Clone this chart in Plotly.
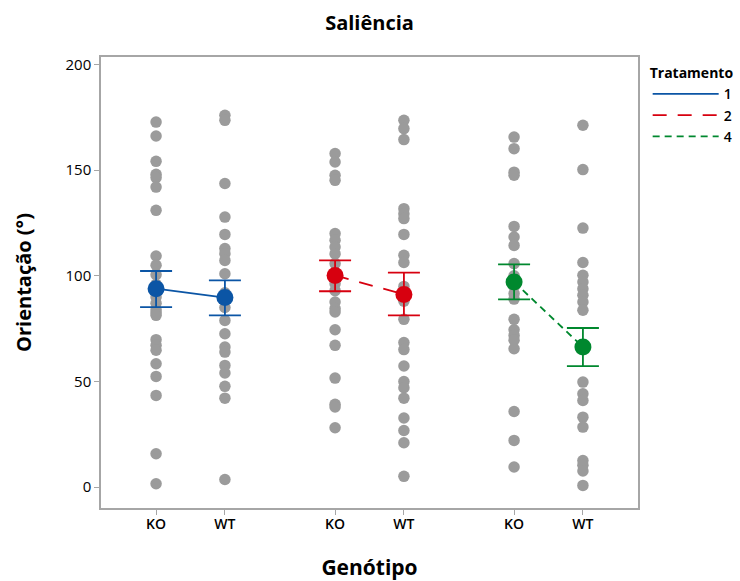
import plotly.graph_objects as go

# ---- data ----
genotypes = ["KO", "WT"]
treatments = ["1", "2", "4"]

obs_t1_ko = [172.8, 166.2, 154.2, 148.1, 146.5, 142.0, 131.0, 109.4, 105.0, 100.5,
             96.0, 90.0, 87.0, 84.0, 82.5, 81.3, 69.8, 67.1, 64.8, 58.4, 52.4,
             43.4, 15.8, 1.6]
obs_t1_wt = [176.0, 173.6, 143.7, 127.8, 119.6, 112.9, 110.5, 107.3, 101.0, 92.0,
             85.0, 78.9, 72.6, 66.3, 63.9, 57.6, 54.0, 47.7, 42.1, 3.6]
obs_t2_ko = [157.9, 153.9, 147.6, 145.2, 120.0, 116.8, 113.6, 110.4, 105.8, 101.0,
             98.0, 96.3, 93.0, 87.6, 84.5, 82.9, 74.5, 67.1, 51.6, 39.2, 37.9, 28.1]
obs_t2_wt = [173.6, 169.7, 164.5, 131.8, 129.4, 127.1, 119.6, 109.7, 106.3, 95.0,
             88.0, 79.4, 68.4, 65.1, 57.3, 50.0, 47.0, 42.1, 32.7, 26.8, 21.0, 5.1]
obs_t4_ko = [165.7, 160.2, 149.1, 147.6, 123.4, 118.4, 114.4, 105.8, 100.0, 95.0,
             91.6, 89.0, 79.4, 74.5, 71.8, 69.5, 65.5, 35.8, 22.1, 9.5]
obs_t4_wt = [171.3, 150.3, 122.6, 106.3, 100.3, 97.1, 93.9, 90.8, 87.6, 83.7,
             49.7, 44.2, 41.0, 33.1, 28.4, 12.6, 10.3, 7.6, 0.8]

mean_t1 = [93.9, 89.7]
ci_hi_t1 = [102.3, 97.9]
ci_lo_t1 = [85.2, 81.3]
mean_t2 = [100.2, 91.2]
ci_hi_t2 = [107.3, 101.5]
ci_lo_t2 = [92.7, 81.3]
mean_t4 = [97.1, 66.3]
ci_hi_t4 = [105.4, 75.3]
ci_lo_t4 = [88.9, 57.3]

y_ticks = [0, 50, 100, 150, 200]

# ---- styling ----
FONT = "Open Sans"
GREY = "#9b9b9b"
FRAME = "#a6a6a6"
styles = {
    "1": dict(color="#0b55a5", dash="solid"),
    "2": dict(color="#d7000f", dash="14px,11px"),
    "4": dict(color="#00882e", dash="7px,5px"),
}
GROUP_STEP = 2.6

obs = {"1": [obs_t1_ko, obs_t1_wt], "2": [obs_t2_ko, obs_t2_wt], "4": [obs_t4_ko, obs_t4_wt]}
means = {"1": mean_t1, "2": mean_t2, "4": mean_t4}
his = {"1": ci_hi_t1, "2": ci_hi_t2, "4": ci_hi_t4}
los = {"1": ci_lo_t1, "2": ci_lo_t2, "4": ci_lo_t4}

fig = go.Figure()

tickvals, ticktext = [], []
for gi, t in enumerate(treatments):
    xs = [gi * GROUP_STEP + k for k in range(len(genotypes))]
    tickvals += xs
    ticktext += genotypes
    for k, vals in enumerate(obs[t]):
        fig.add_trace(go.Scatter(
            x=[xs[k]] * len(vals), y=vals, mode="markers",
            marker=dict(color=GREY, size=11.5, line=dict(width=0)),
            showlegend=False, hoverinfo="y"))

for gi, t in enumerate(treatments):
    xs = [gi * GROUP_STEP + k for k in range(len(genotypes))]
    st = styles[t]
    m = means[t]
    fig.add_trace(go.Scatter(
        x=xs, y=m, mode="lines", name=t,
        line=dict(color=st["color"], width=1.8, dash=st["dash"])))
    fig.add_trace(go.Scatter(
        x=xs, y=m, mode="markers", showlegend=False,
        marker=dict(color=st["color"], size=17, line=dict(width=0)),
        error_y=dict(type="data", symmetric=False,
                     array=[h - v for h, v in zip(his[t], m)],
                     arrayminus=[v - l for l, v in zip(los[t], m)],
                     color=st["color"], thickness=1.8, width=16)))

fig.update_layout(
    width=740, height=581,
    margin=dict(l=101, r=102, t=57, b=73, autoexpand=False),
    paper_bgcolor="white", plot_bgcolor="white",
    font=dict(family=FONT, size=14, color="black"),
    title=dict(text="<b>Saliência</b>", x=0.5, xref="paper", xanchor="center",
               y=1 - 23 / 581, yref="container", yanchor="middle",
               font=dict(family=FONT, size=20, color="black")),
    showlegend=True,
    legend=dict(x=1.018, xanchor="left", y=0.993, yanchor="top",
                title=dict(text="<b>Tratamento</b>", font=dict(size=14)),
                font=dict(size=14, weight=600), bgcolor="rgba(0,0,0,0)",
                itemwidth=66, tracegroupgap=0),
)
fig.update_xaxes(
    range=[-0.8, 7.0], tickvals=tickvals, ticktext=ticktext, automargin=False,
    showgrid=False, zeroline=False, showline=True, mirror=True,
    linecolor=FRAME, linewidth=1.5, ticks="outside", ticklen=5, tickcolor=FRAME,
    tickfont=dict(family=FONT, size=14, weight=600), ticklabelstandoff=-3,
    title=dict(text="<b>Genótipo</b>", font=dict(family=FONT, size=21), standoff=35))
fig.update_yaxes(
    range=[-9.9, 203.6], tickvals=y_ticks, automargin=False,
    showgrid=False, zeroline=False, showline=True, mirror=True,
    linecolor=FRAME, linewidth=1.5, ticks="outside", ticklen=5, tickcolor=FRAME,
    tickfont=dict(family=FONT, size=15),
    title=dict(text="<b>Orientação (°)</b>", font=dict(family=FONT, size=20), standoff=29))

fig.write_html("out.html", config={"displayModeBar": False},
               post_script="document.body.style.margin='0px';")
